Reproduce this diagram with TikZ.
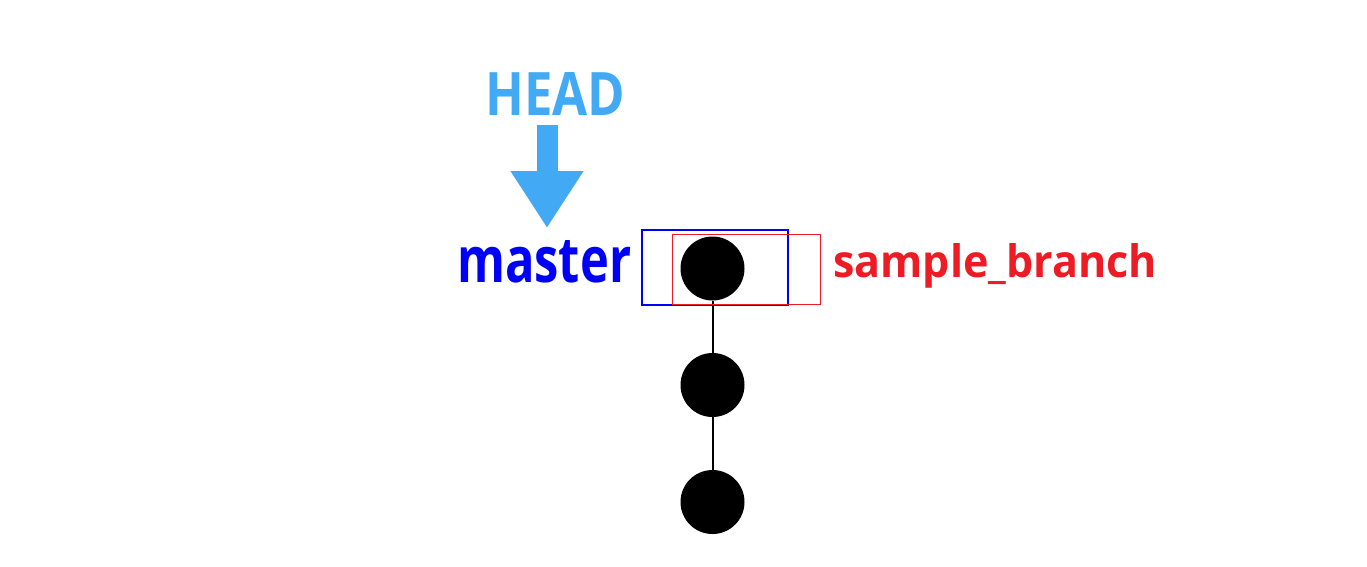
\documentclass[tikz,border=0pt]{standalone}
\usepackage{fontspec}
\setmainfont{Open Sans}
\usetikzlibrary{arrows.meta}
\definecolor{headblue}{RGB}{66,170,244}
\definecolor{masterblue}{RGB}{0,0,250}
\definecolor{branchred}{RGB}{237,28,36}
\tikzset{
  commit/.style={circle,fill=black,minimum size=64pt,inner sep=0pt},
  link/.style={draw=black,line width=2pt},
  label/.style={inner sep=0pt,anchor=base west,font=\bfseries},
  refbox/.style={draw,line width=1.5pt,inner sep=0pt,anchor=north west}
}
\begin{document}
\begin{tikzpicture}[x=1pt,y=-1pt]
\useasboundingbox (0,0) rectangle (1367,566);
\node[label,text=headblue] (head) at (485,115) {\resizebox{140pt}{43pt}{HEAD}};
\coordinate (a1) at (547,125);
\coordinate (a2) at (547,228);
\draw[headblue,line width=21pt,-{Triangle[width=69pt,length=57pt]}] (a1) -- (a2);
\node[label,text=masterblue] (master) at (457,282) {\resizebox{174pt}{42pt}{master}};
\node[label,text=branchred] (branch) at (833,277) {\resizebox{324pt}{34pt}{sample\_branch}};
\node[commit] (c1) at (712.5,268.5) {};
\node[commit] (c2) at (712.5,385) {};
\node[commit] (c3) at (712.5,502) {};
\draw[link] (c1) -- (c2);
\draw[link] (c2) -- (c3);
\node[refbox,draw=masterblue,minimum width=146pt,minimum height=75pt] (mbox) at (641,229) {};
\node[refbox,draw=branchred,minimum width=148pt,minimum height=70pt] (bbox) at (671.5,233.5) {};
\end{tikzpicture}
\end{document}
